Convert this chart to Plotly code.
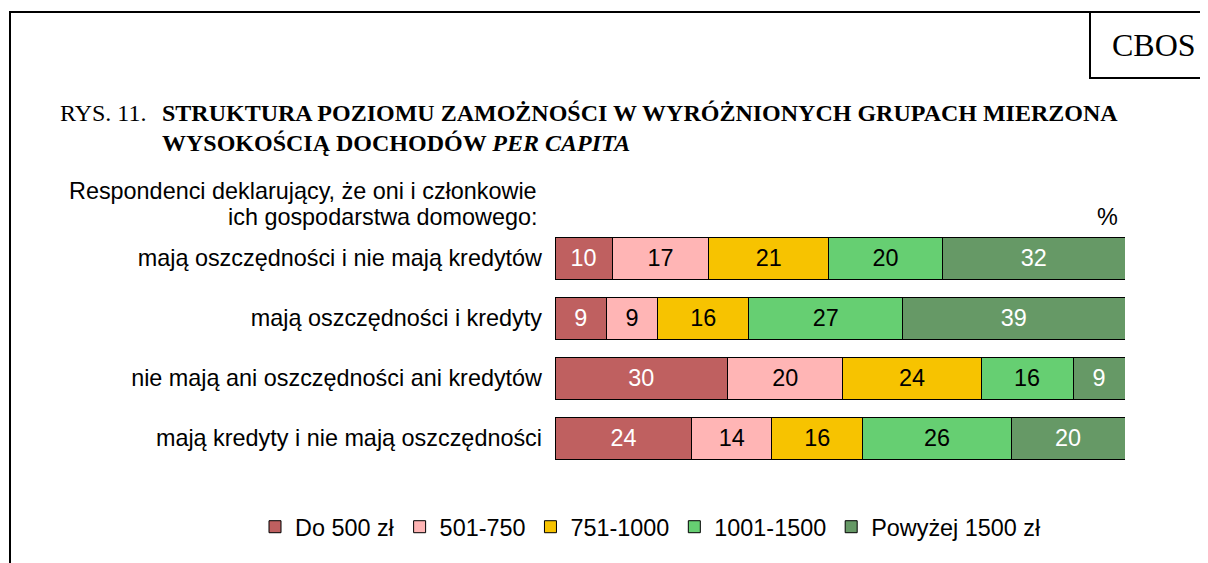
import plotly.graph_objects as go

categories = ["mają oszczędności i nie mają kredytów", "mają oszczędności i kredyty",
              "nie mają ani oszczędności ani kredytów", "mają kredyty i nie mają oszczędności"]
series_names = ["Do 500 zł", "501-750", "751-1000", "1001-1500", "Powyżej 1500 zł"]
do_500 = [10, 9, 30, 24]
r_501_750 = [17, 9, 20, 14]
r_751_1000 = [21, 16, 24, 16]
r_1001_1500 = [20, 27, 16, 26]
pow_1500 = [32, 39, 9, 20]
series = [do_500, r_501_750, r_751_1000, r_1001_1500, pow_1500]

colors = ["#BF6060", "#FFB5B5", "#F7C300", "#66CF72", "#669966"]
text_colors = ["white", "black", "black", "black", "white"]

# page has an 8px body margin, so work in page pixels and shift
OFF = 8
W, H = 1200, 555
L, R, T, B = 555 - OFF, 1125 - OFF, 228 - OFF, 468 - OFF  # plot area in figure pixels

def px(x): return (x - OFF - L) / (R - L)
def py(y): return (B - (y - OFF)) / (B - T)

SANS = "Liberation Sans, Arial"
SERIF = "Liberation Serif, Times New Roman"
FS = 23.4

fig = go.Figure()
for name, vals, c, tc in zip(series_names, series, colors, text_colors):
    fig.add_trace(go.Bar(
        y=categories, x=vals, name=name, orientation="h",
        marker=dict(color=c, line=dict(color="black", width=1)),
        text=vals, texttemplate="%{text}", textposition="inside",
        insidetextanchor="middle", textangle=0,
        textfont=dict(color=tc, size=FS, family=SANS),
        hoverinfo="skip"))

fig.update_layout(
    width=W, height=H, barmode="stack", barnorm="percent", bargap=0.3,
    paper_bgcolor="white", plot_bgcolor="white",
    margin=dict(l=L, r=W - R, t=T, b=H - B, autoexpand=False),
    font=dict(family=SANS, size=FS, color="black"),
    xaxis=dict(range=[0, 100], visible=False, fixedrange=True),
    yaxis=dict(categoryorder="array", categoryarray=categories, range=[3.5, -0.5],
               showline=False, showgrid=False, zeroline=False, ticks="",
               ticklabelstandoff=12, tickfont=dict(size=FS, family=SANS)),
    legend=dict(orientation="h", xref="paper", yref="paper",
                x=px(255), y=py(527), xanchor="left", yanchor="middle",
                font=dict(size=FS, family=SANS), traceorder="normal",
                itemwidth=30, tracegroupgap=0),
)

# frame and CBOS box
fig.add_shape(type="line", xref="paper", yref="paper", x0=px(10), y0=py(570), x1=px(10), y1=py(12),
              line=dict(color="black", width=2))
fig.add_shape(type="line", xref="paper", yref="paper", x0=px(9), y0=py(12), x1=px(1215), y1=py(12),
              line=dict(color="black", width=2))
fig.add_shape(type="rect", xref="paper", yref="paper", x0=px(1090), y0=py(78), x1=px(1215), y1=py(12),
              line=dict(color="black", width=2))

def note(text, x, y, xanchor="left", size=FS, family=SANS):
    fig.add_annotation(text=text, xref="paper", yref="paper", x=px(x), y=py(y),
                       xanchor=xanchor, yanchor="middle", showarrow=False,
                       font=dict(size=size, family=family, color="black"))

note("CBOS", 1154, 45, "center", 32, SERIF)
note("RYS. 11.", 58, 113, "left", 24, SERIF)
note("<b>STRUKTURA POZIOMU ZAMOŻNOŚCI W WYRÓŻNIONYCH GRUPACH MIERZONA</b>", 160, 113, "left", 24, SERIF)
note("<b>WYSOKOŚCIĄ DOCHODÓW <i>PER CAPITA</i></b>", 160, 143, "left", 24, SERIF)
note("Respondenci deklarujący, że oni i członkowie", 539, 191, "right")
note("ich gospodarstwa domowego:", 539, 217, "right")
note("%", 1107, 217, "center")

fig.write_html("out.html")
